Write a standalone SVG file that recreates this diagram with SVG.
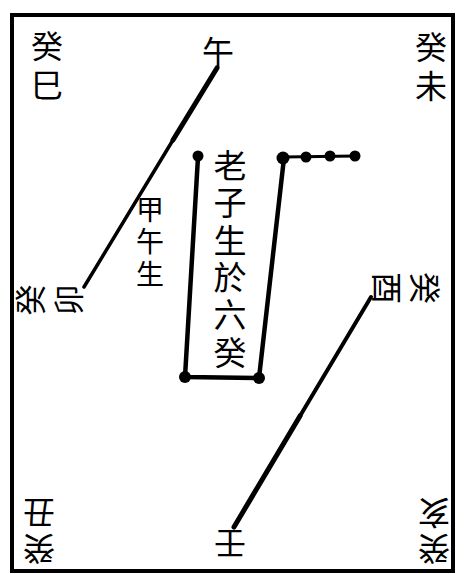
<svg xmlns="http://www.w3.org/2000/svg" width="465" height="574" viewBox="0 0 465 574">
<style>
.t{font-family:"Noto Sans CJK TC","Noto Sans CJK SC",sans-serif;fill:#000;text-anchor:middle;dominant-baseline:central}
.v{writing-mode:vertical-rl}
.c{stroke:#000;fill:none;stroke-linecap:round;stroke-linejoin:round}
.d{fill:#000}
</style>
<rect x="0" y="0" width="465" height="574" fill="#fff"/>
<rect x="12" y="15" width="441" height="556" fill="none" stroke="#000" stroke-width="4"/>
<g id="connectors">
<line class="c" x1="217" y1="68" x2="173" y2="140" stroke-width="5"/>
<line class="c" x1="173" y1="140" x2="84" y2="287" stroke-width="3.5"/>
<line class="c" x1="371" y1="297" x2="300" y2="416" stroke-width="4"/>
<line class="c" x1="300" y1="416" x2="234" y2="527" stroke-width="5"/>
<polyline class="c" points="198,157 185,377 259,378 284,158" stroke-width="4.5"/>
<line class="c" x1="284" y1="157" x2="355" y2="156" stroke-width="3"/>
<circle class="d" cx="198" cy="156" r="5.5"/>
<circle class="d" cx="185" cy="377" r="6"/>
<circle class="d" cx="259" cy="378" r="6"/>
<circle class="d" cx="283" cy="158" r="6.5"/>
<circle class="d" cx="306" cy="157" r="5.5"/>
<circle class="d" cx="330" cy="156" r="5.5"/>
<circle class="d" cx="355" cy="156" r="5.5"/>
</g>
<g id="n-guisi">
<text class="t v" font-size="32" letter-spacing="7" x="47" y="69">癸巳</text>
</g>
<g id="n-wu">
<text class="t" font-size="32" x="218" y="50">午</text>
</g>
<g id="n-guiwei">
<text class="t v" font-size="32" letter-spacing="7" x="431" y="70">癸未</text>
</g>
<g id="n-guimao">
<text class="t v" font-size="31" letter-spacing="7" x="0" y="0" transform="translate(53,300) rotate(-90)">癸卯</text>
</g>
<g id="n-guiyou">
<text class="t v" font-size="32" letter-spacing="6" x="0" y="0" transform="translate(403,288) rotate(90)">癸酉</text>
</g>
<g id="n-jiawusheng">
<text class="t v" font-size="28" letter-spacing="4.5" x="150" y="244">甲午生</text>
</g>
<g id="n-laozi">
<text class="t v" font-size="33" letter-spacing="4.4" x="230" y="261">老子生於六癸</text>
</g>
<g id="n-guichou">
<text class="t v" font-size="32" letter-spacing="4" x="0" y="0" transform="translate(39,529) rotate(180)">癸丑</text>
</g>
<g id="n-guihai">
<text class="t v" font-size="32" letter-spacing="4" x="0" y="0" transform="translate(434,529) rotate(180)">癸亥</text>
</g>
<g id="n-ren">
<text class="t" font-size="32" x="230" y="546" transform="rotate(180 230 546)">壬</text>
</g>
</svg>
